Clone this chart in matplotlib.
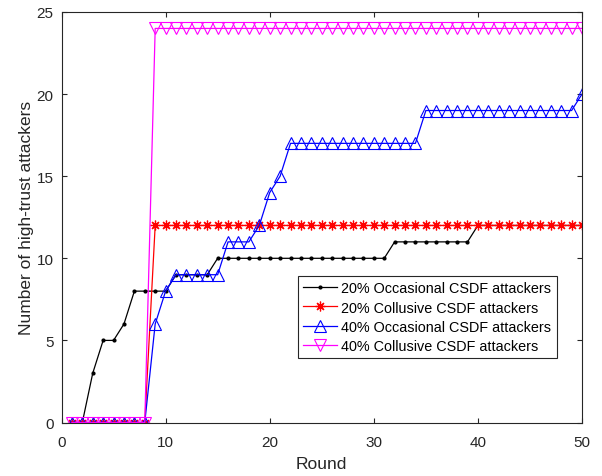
import matplotlib
matplotlib.use('Agg')
import matplotlib.pyplot as plt

plt.rcParams['font.family'] = ['Liberation Sans', 'DejaVu Sans']
dark = '#262626'
plt.rcParams['axes.edgecolor'] = dark
plt.rcParams['xtick.color'] = dark
plt.rcParams['ytick.color'] = dark
plt.rcParams['axes.labelcolor'] = dark

rounds = list(range(1, 51))

occ20 = [0, 0, 3, 5, 5, 6, 8, 8, 8, 8] + [9] * 4 + [10] * 17 + [11] * 8 + [12] * 11
col20 = [0] * 8 + [12] * 42
occ40 = [0] * 8 + [6, 8] + [9] * 5 + [11] * 3 + [12, 14, 15] + [17] * 13 + [19] * 15 + [20]
col40 = [0] * 8 + [24] * 42

labels = ['20% Occasional CSDF attackers', '20% Collusive CSDF attackers',
          '40% Occasional CSDF attackers', '40% Collusive CSDF attackers']

fig = plt.figure(figsize=(6.02, 4.77), dpi=100)
ax = fig.add_axes([61.5 / 602, (477 - 423.5) / 477, 520.5 / 602, 410.5 / 477])

ax.plot(rounds, occ20, '-', color='k', marker='.', markersize=4, lw=0.9, label=labels[0])
ax.plot(rounds, col20, '-', color='r', marker=(8, 2, 0), markersize=7, markeredgewidth=0.9,
        lw=0.9, label=labels[1])
ax.plot(rounds, occ40, '-', color='b', marker='^', markersize=8, markerfacecolor='none',
        markeredgewidth=0.8, lw=0.9, label=labels[2])
ax.plot(rounds, col40, '-', color='magenta', marker='v', markersize=8, markerfacecolor='none',
        markeredgewidth=0.8, lw=0.9, label=labels[3])

ax.set_xlim(0, 50)
ax.set_ylim(0, 25)
ax.set_xticks(range(0, 51, 10))
ax.set_yticks(range(0, 26, 5))
ax.tick_params(direction='in', top=True, right=True, labelsize=11, length=3.6)
ax.tick_params(axis='x', pad=9)
ax.tick_params(axis='y', pad=5.8)
ax.set_xlabel('Round', fontsize=12.5, labelpad=5)
ax.set_ylabel('Number of high-trust attackers', fontsize=12.5, labelpad=1.5)

leg = ax.legend(loc='upper left', bbox_to_anchor=((298 - 61.5) / 520.5, (423.5 - 277) / 410.5),
                fontsize=10.4, fancybox=False, framealpha=1, edgecolor=dark, borderaxespad=0,
                handlelength=2.3, labelspacing=0.35, handletextpad=0.32, borderpad=0.38)
leg.get_frame().set_linewidth(0.8)

plt.savefig('out.png', dpi=100)
